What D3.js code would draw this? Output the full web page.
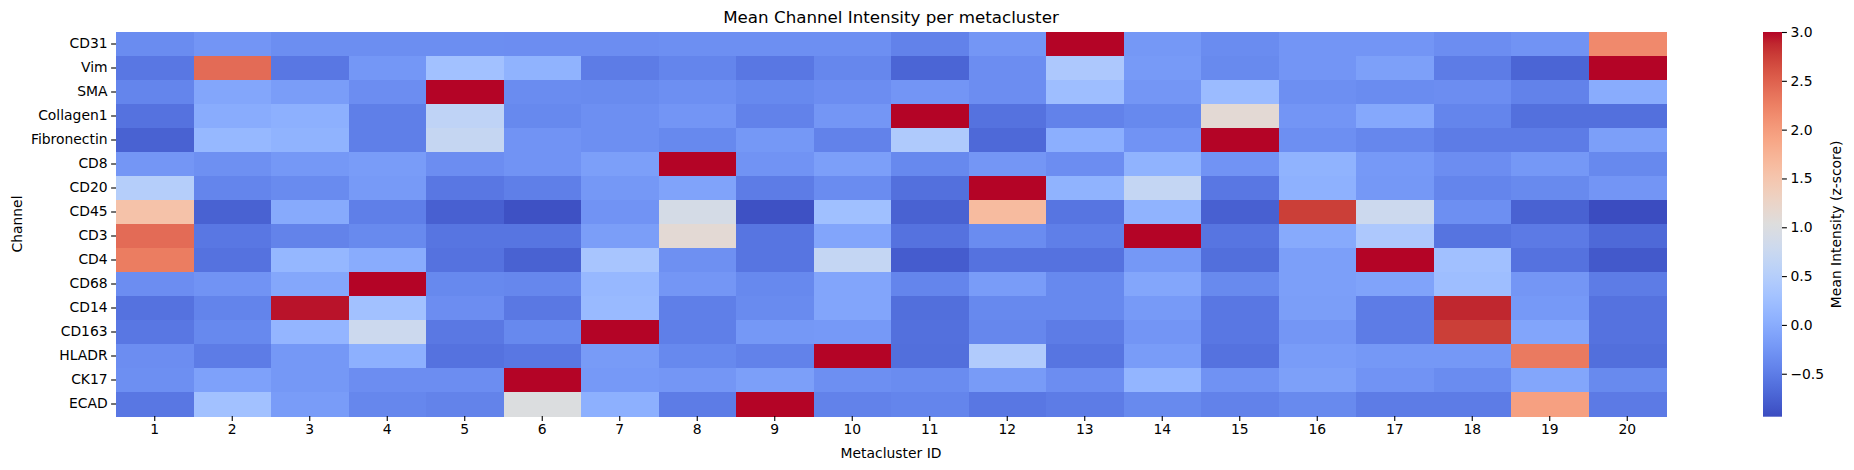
<!DOCTYPE html>
<html>
<head>
<meta charset="utf-8">
<script src="https://cdn.jsdelivr.net/npm/d3@7"></script>
<style>
  body { margin: 0; background: #fff; }
  svg text { font-family: "DejaVu Sans", sans-serif; fill: #000; }
</style>
</head>
<body>
<div id="chart"></div>
<script>
// channels (rows), top to bottom
var channels = ["CD31", "Vim", "SMA", "Collagen1", "Fibronectin", "CD8", "CD20", "CD45",
                "CD3", "CD4", "CD68", "CD14", "CD163", "HLADR", "CK17", "ECAD"];
// metacluster ids (columns)
var clusters = ["1", "2", "3", "4", "5", "6", "7", "8", "9", "10",
                "11", "12", "13", "14", "15", "16", "17", "18", "19", "20"];

// mean z-score per channel, one array per row
var CD31        = [-0.35, -0.25, -0.32, -0.32, -0.32, -0.33, -0.33, -0.31, -0.31, -0.31, -0.45, -0.24, 3.2, -0.22, -0.35, -0.25, -0.25, -0.33, -0.27, 2.17];
var Vim         = [-0.55, 2.42, -0.55, -0.23, 0.28, 0.08, -0.5, -0.42, -0.55, -0.4, -0.72, -0.33, 0.4, -0.2, -0.37, -0.25, -0.13, -0.5, -0.72, 3.2];
var SMA         = [-0.42, -0.07, -0.17, -0.33, 3.2, -0.35, -0.36, -0.31, -0.38, -0.33, -0.25, -0.33, 0.23, -0.24, 0.2, -0.31, -0.35, -0.33, -0.45, 0.0];
var Collagen1   = [-0.6, 0.0, 0.05, -0.48, 0.62, -0.38, -0.31, -0.25, -0.45, -0.24, 3.2, -0.6, -0.45, -0.38, 1.12, -0.25, -0.04, -0.42, -0.62, -0.62];
var Fibronectin = [-0.75, 0.15, 0.08, -0.48, 0.7, -0.27, -0.31, -0.38, -0.22, -0.45, 0.43, -0.68, 0.03, -0.27, 3.2, -0.31, -0.4, -0.5, -0.5, -0.15];
var CD8         = [-0.24, -0.3, -0.22, -0.18, -0.33, -0.27, -0.15, 3.2, -0.27, -0.15, -0.38, -0.24, -0.33, 0.08, -0.27, 0.08, -0.21, -0.33, -0.22, -0.38];
var CD20        = [0.5, -0.42, -0.36, -0.2, -0.55, -0.48, -0.22, -0.1, -0.5, -0.35, -0.62, 3.2, 0.08, 0.68, -0.55, 0.06, -0.22, -0.42, -0.37, -0.25];
var CD45        = [1.55, -0.75, -0.02, -0.48, -0.76, -0.9, -0.27, 0.9, -0.9, 0.26, -0.75, 1.65, -0.57, 0.08, -0.76, 2.75, 0.78, -0.31, -0.75, -0.94];
var CD3         = [2.42, -0.55, -0.44, -0.37, -0.57, -0.57, -0.16, 1.12, -0.57, -0.08, -0.6, -0.35, -0.48, 3.2, -0.57, -0.02, 0.4, -0.58, -0.52, -0.68];
var CD4         = [2.28, -0.6, 0.14, 0.0, -0.6, -0.75, 0.35, -0.3, -0.57, 0.68, -0.8, -0.6, -0.6, -0.22, -0.63, -0.14, 3.2, 0.27, -0.6, -0.83];
var CD68        = [-0.33, -0.27, -0.06, 3.2, -0.38, -0.4, 0.16, -0.24, -0.38, -0.08, -0.42, -0.18, -0.38, -0.07, -0.37, -0.14, -0.1, 0.24, -0.24, -0.5];
var CD14        = [-0.6, -0.43, 2.95, 0.28, -0.33, -0.54, 0.18, -0.48, -0.36, -0.08, -0.63, -0.38, -0.38, -0.2, -0.55, -0.16, -0.5, 2.88, -0.21, -0.6];
var CD163       = [-0.55, -0.38, 0.12, 0.78, -0.54, -0.38, 3.2, -0.48, -0.22, -0.21, -0.62, -0.4, -0.5, -0.25, -0.55, -0.24, -0.5, 2.75, -0.08, -0.6];
var HLADR       = [-0.33, -0.5, -0.22, 0.05, -0.6, -0.55, -0.19, -0.38, -0.45, 3.2, -0.63, 0.45, -0.57, -0.18, -0.6, -0.18, -0.22, -0.22, 2.3, -0.63];
var CK17        = [-0.31, -0.12, -0.22, -0.33, -0.33, 3.2, -0.21, -0.24, -0.14, -0.31, -0.35, -0.19, -0.33, 0.11, -0.28, -0.13, -0.27, -0.35, -0.07, -0.37];
var ECAD        = [-0.55, 0.28, -0.18, -0.4, -0.44, 1.0, 0.05, -0.5, 3.2, -0.45, -0.42, -0.55, -0.5, -0.37, -0.45, -0.37, -0.5, -0.5, 1.95, -0.52];

var rows = [CD31, Vim, SMA, Collagen1, Fibronectin, CD8, CD20, CD45, CD3, CD4, CD68, CD14, CD163, HLADR, CK17, ECAD];

var colorbarTicks = [-0.5, 0.0, 0.5, 1.0, 1.5, 2.0, 2.5, 3.0];
var vmin = -0.94, vmax = 3.0;

// coolwarm (Moreland) control points
var coolwarm = [
  [59,76,192],[68,90,204],[77,104,215],[87,117,225],[98,130,234],[108,142,241],[119,154,247],
  [130,165,251],[141,176,254],[152,185,255],[163,194,255],[174,201,253],[184,208,249],[194,213,244],
  [204,217,238],[213,219,230],[221,221,221],[229,216,209],[236,211,197],[241,204,184],[245,196,172],
  [247,187,159],[247,177,147],[247,166,134],[244,154,123],[241,141,111],[236,127,99],[229,112,89],
  [222,96,77],[213,80,66],[203,62,56],[192,40,47],[180,4,38]
].map(function(c) { return d3.rgb(c[0], c[1], c[2]).toString(); });

var interp = d3.interpolateRgbBasis ? d3.piecewise(d3.interpolateRgb, coolwarm) : null;
var color = d3.scaleSequential(interp).domain([vmin, vmax]).clamp(true);

var W = 1854, H = 470;
var margin = { left: 116, top: 32, right: 1666, bottom: 416 };

var svg = d3.select("#chart").append("svg")
  .attr("width", W).attr("height", H);

var x = d3.scaleBand().domain(clusters).range([margin.left, margin.right]);
var y = d3.scaleBand().domain(channels).range([margin.top, margin.bottom]);

var cells = [];
rows.forEach(function(vals, i) {
  vals.forEach(function(v, j) {
    cells.push({ ch: channels[i], cl: clusters[j], v: v });
  });
});

svg.append("g").selectAll("rect")
  .data(cells)
  .enter().append("rect")
  .attr("x", function(d) { return x(d.cl); })
  .attr("y", function(d) { return y(d.ch); })
  .attr("width", x.bandwidth() + 0.5)
  .attr("height", y.bandwidth() + 0.5)
  .attr("fill", function(d) { return color(d.v); })
  .attr("shape-rendering", "crispEdges");

// axes
var xAxis = svg.append("g")
  .attr("transform", "translate(0," + margin.bottom + ")")
  .call(d3.axisBottom(x).tickSize(4.9).tickPadding(3.5));
var yAxis = svg.append("g")
  .attr("transform", "translate(" + margin.left + ",0)")
  .call(d3.axisLeft(y).tickSize(4.9).tickPadding(3.5));
[xAxis, yAxis].forEach(function(g) {
  g.select(".domain").remove();
  g.selectAll("line").attr("stroke", "#000").attr("stroke-width", 1.1);
  g.selectAll("text").style("font-size", "13.9px").style("font-family", "DejaVu Sans");
});

svg.append("text")
  .attr("x", (margin.left + margin.right) / 2)
  .attr("y", 23)
  .attr("text-anchor", "middle")
  .style("font-size", "16.7px")
  .text("Mean Channel Intensity per metacluster");

svg.append("text")
  .attr("x", (margin.left + margin.right) / 2)
  .attr("y", 458)
  .attr("text-anchor", "middle")
  .style("font-size", "13.9px")
  .text("Metacluster ID");

svg.append("text")
  .attr("transform", "translate(22," + ((margin.top + margin.bottom) / 2) + ") rotate(-90)")
  .attr("text-anchor", "middle")
  .style("font-size", "13.9px")
  .text("Channel");

// colorbar
var cbX = 1763, cbW = 19;
var cbScale = d3.scaleLinear().domain([vmin, vmax]).range([416.7, 32]);

var defs = svg.append("defs");
var grad = defs.append("linearGradient")
  .attr("id", "cbgrad")
  .attr("x1", 0).attr("y1", 1).attr("x2", 0).attr("y2", 0);
coolwarm.forEach(function(c, i) {
  grad.append("stop")
    .attr("offset", (i / (coolwarm.length - 1) * 100) + "%")
    .attr("stop-color", c);
});
svg.append("rect")
  .attr("x", cbX).attr("y", cbScale(vmax))
  .attr("width", cbW).attr("height", cbScale(vmin) - cbScale(vmax))
  .attr("fill", "url(#cbgrad)");

var cbAxis = svg.append("g")
  .attr("transform", "translate(" + (cbX + cbW) + ",0)")
  .call(d3.axisRight(cbScale).tickValues(colorbarTicks).tickSize(4.9).tickPadding(3.5)
    .tickFormat(function(d) { return d3.format(".1f")(d).replace("-", "\u2212"); }));
cbAxis.select(".domain").remove();
cbAxis.selectAll("line").attr("stroke", "#000").attr("stroke-width", 1.1);
cbAxis.selectAll("text").style("font-size", "13.9px").style("font-family", "DejaVu Sans");

svg.append("text")
  .attr("transform", "translate(1841," + cbScale((vmin + vmax) / 2) + ") rotate(-90)")
  .attr("text-anchor", "middle")
  .style("font-size", "13.9px")
  .text("Mean Intensity (z-score)");
</script>
</body>
</html>
